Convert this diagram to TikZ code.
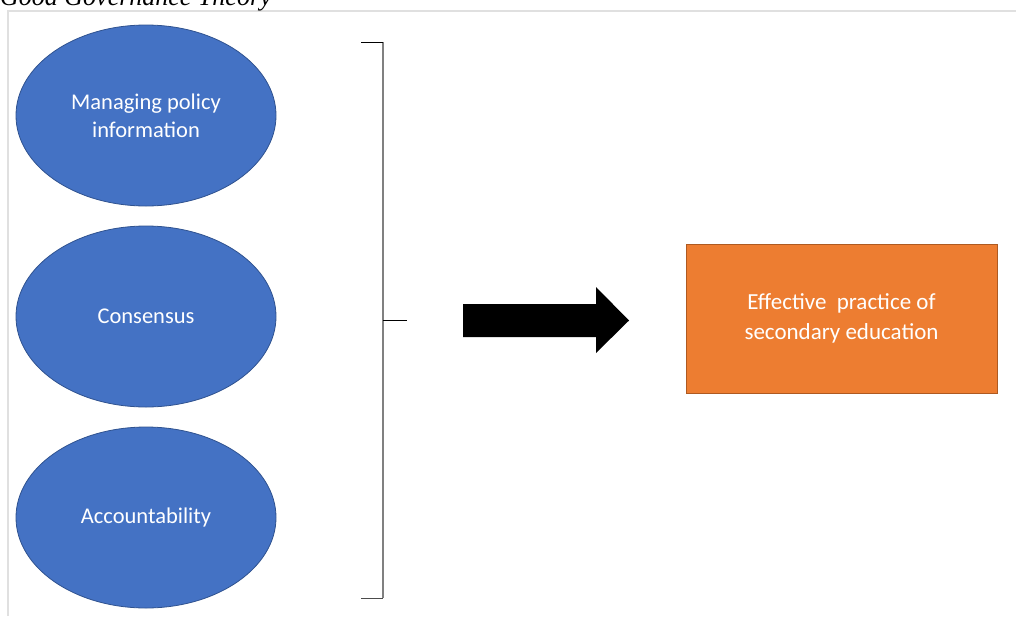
\documentclass[tikz,border=0pt]{standalone}
\usepackage{fontspec}
\setmainfont{Carlito}
\newfontfamily\titlefont{Liberation Serif}
\usepackage{tikz}
\usetikzlibrary{arrows,shapes,positioning}
\usepackage{xcolor}
\definecolor{ggblue}{RGB}{68,114,196}
\definecolor{ggblueline}{RGB}{47,82,143}
\definecolor{ggorange}{RGB}{237,125,49}
\definecolor{ggorangeline}{RGB}{174,90,33}
\definecolor{ggframe}{RGB}{224,224,224}
\definecolor{ggbracket}{RGB}{128,128,128}
\tikzstyle{factor} = [ellipse, draw=ggblueline, fill=ggblue, line width=0.8pt, minimum width=260pt, minimum height=181pt, inner sep=0pt, text=white, align=center, font=\fontsize{22.5}{28}\selectfont]
\tikzstyle{outcome} = [rectangle, draw=ggorangeline, fill=ggorange, line width=0.8pt, minimum width=311pt, minimum height=149pt, inner sep=0pt, text=white, align=center, font=\fontsize{23}{30}\selectfont]

\begin{document}
\begin{tikzpicture}[x=1pt, y=-1pt]
\useasboundingbox (0,0) rectangle (1016,616);
\draw[ggframe, line width=1.5pt] (8,616) -- (8,11) -- (1016,11);
\node[anchor=base west, inner sep=0pt, font=\titlefont\itshape\fontsize{26}{30}\selectfont] (title) at (0,5) {Good Governance Theory};

\node[factor] (policy) at (146,115.5) {Managing policy\\information};
\node[factor] (consensus) at (146,316.5) {Consensus};
\node[factor] (account) at (146,517.5) {Accountability};

% bracket
\coordinate (btop) at (383,42);
\coordinate (bbot) at (383,598);
\coordinate (bmid) at (383,320);
\draw[ggbracket, line width=1.5pt] (btop) -- (bbot);
\draw[black, line width=1pt] ([xshift=-22pt]btop) -- (btop);
\draw[black!70, line width=1pt] ([xshift=-22pt]bbot) -- (bbot);
\draw[black, line width=1pt] (bmid) -- ([xshift=24pt]bmid);

% big arrow
\fill[black] (463,304) -- (596,304) -- (596,287) -- (629,320.5) -- (596,353) -- (596,337) -- (463,337) -- cycle;

\node[outcome] (practice) at (841.5,318.5) {Effective\ \ practice of\\secondary education};
\end{tikzpicture}
\end{document}
